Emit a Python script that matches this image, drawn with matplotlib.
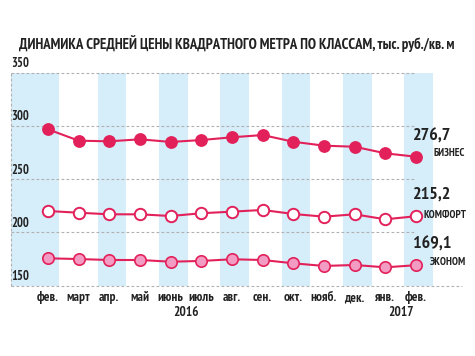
import matplotlib
matplotlib.use("Agg")
import matplotlib.pyplot as plt
from matplotlib import font_manager

months = ["фев.", "март", "апр.", "май", "июнь", "июль", "авг.", "сен.", "окт.", "нояб.", "дек.", "янв.", "фев."]
years = ["2016", "2017"]
biznes = [297.0, 286.3, 285.7, 287.6, 285.1, 286.9, 289.5, 291.6, 285.3, 281.6, 280.6, 274.4, 271.2]
komfort = [220.1, 218.5, 217.0, 217.0, 215.4, 218.0, 219.5, 221.1, 217.3, 214.8, 217.0, 212.3, 215.2]
ekonom = [175.6, 174.9, 174.0, 174.0, 172.4, 173.1, 174.7, 174.0, 170.9, 168.4, 169.3, 167.1, 169.1]
end_values = ["276,7", "215,2", "169,1"]
series_names = ["БИЗНЕС", "КОМФОРТ", "ЭКОНОМ"]
yticks = [150, 200, 250, 300, 350]
title = "ДИНАМИКА СРЕДНЕЙ ЦЕНЫ КВАДРАТНОГО МЕТРА ПО КЛАССАМ, тыс. руб./кв. м"

names = {f.name for f in font_manager.fontManager.ttflist}
narrow = next((f for f in ["PT Sans Narrow", "Roboto Condensed", "Fira Sans Condensed"] if f in names), "DejaVu Sans")
plt.rcParams["font.family"] = [narrow, "DejaVu Sans"]

W, H = 475, 356
fig = plt.figure(figsize=(W / 100, H / 100), dpi=100)
ax = fig.add_axes([11 / W, 1 - 285.5 / H, (462 - 11) / W, (285.5 - 73) / H])
ax.set_xlim(-1.206, 13.5)
ax.set_ylim(150, 350)
ax.axis("off")

red = "#e2215a"
pink = "#f39cc3"
blue = "#d6edfa"
grid = "#b0b0b0"
txt = "#222222"

n = len(months)
# stripes
ax.axvspan(-1.206, 0.36, color=blue, lw=0, zorder=0)
for i in range(2, n, 2):
    ax.axvspan(i - 0.38, i + 0.55, color=blue, lw=0, zorder=0)

# grid lines
for v in yticks:
    xe = 13.5 if v == 150 else 12.0
    ax.plot([-1.206, xe], [v, v], color=grid, lw=0.8, ls=(0, (2.5, 2)), zorder=1, clip_on=False)
    ax.text(-1.206, v + 2.5, str(v), ha="left", va="bottom", fontsize=9, fontweight="bold", color=txt)
ax.plot([-1.206, -1.206], [150, 350], color=grid, lw=0.8, ls=(0, (2.5, 2)), zorder=1, clip_on=False)

x = list(range(n))
ms = 8.2
ax.plot(x, biznes, color=red, lw=1.5, marker="o", ms=ms, mfc=red, mec=red, zorder=3)
ax.plot(x, komfort, color=red, lw=1.5, marker="o", ms=ms, mfc="white", mec=red, mew=1.4, zorder=3)
ax.plot(x, ekonom, color=red, lw=1.5, marker="o", ms=ms, mfc=pink, mec=red, mew=1.2, zorder=3)

# end annotations
val_y = [136.7, 195, 245]
name_y = [153, 215, 262]
name_x = [433, 424, 430]
for k in range(3):
    fig.text(413 / W, 1 - val_y[k] / H, end_values[k], ha="left", va="center",
             fontsize=13, fontweight="bold", color=txt)
    fig.text(name_x[k] / W, 1 - name_y[k] / H, series_names[k], ha="left", va="center",
             fontsize=7.8, fontweight="bold", color=txt)

# month labels
for i, m in enumerate(months):
    ax.text(i, 150 - 12 / 1.0625, m, ha="center", va="center", fontsize=9.5,
            fontweight="bold", color=txt, clip_on=False)
for yr, xi in zip(years, [4.5, 11.5]):
    ax.text(xi, 150 - 27 / 1.0625, yr, ha="center", va="center", fontsize=9.5,
            fontweight="bold", color=txt, clip_on=False)

fig.text(237 / W, 1 - 44 / H, title, ha="center", va="center", fontsize=10.6,
         fontweight="bold", color=txt)

fig.savefig("out.png", dpi=100)
